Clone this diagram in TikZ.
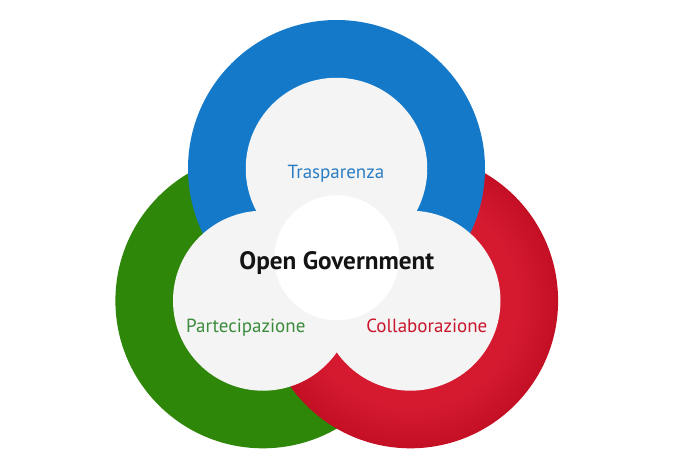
\documentclass[tikz,border=0pt]{standalone}
\usepackage{fontspec}
\setmainfont{PT Sans}
\definecolor{ringblue}{HTML}{1479C9}
\definecolor{ringgreen}{HTML}{2E8709}
\definecolor{redL}{HTML}{D51A30}
\definecolor{redD}{HTML}{C30F24}
\definecolor{innergray}{HTML}{F4F4F4}
\definecolor{txtblue}{HTML}{2A7DC4}
\definecolor{txtgreen}{HTML}{3A8C3C}
\definecolor{txtred}{HTML}{C8162C}
\pgfdeclareradialshading{redring}{\pgfpoint{0bp}{0bp}}{color(0bp)=(redL); color(18bp)=(redL); color(25bp)=(redD); color(50bp)=(redD)}
\tikzset{
  disc/.style={circle, inner sep=0pt, outer sep=0pt, draw=none, minimum size=#1},
  lbl/.style={anchor=base, inner sep=0pt, font=\fontsize{19}{21}\selectfont}
}
\begin{document}
\begin{tikzpicture}[x=1pt,y=-1pt]
\useasboundingbox (0,0) rectangle (678,469);
\fill[white] (0,0) rectangle (678,469);
% outer rings (full discs, covered by inner discs)
\node[disc=295.2pt, fill=ringgreen] (greenring) at (263,300.7) {};
\node[disc=295.2pt, shading=redring] (redring) at (410.5,300.7) {};
\node[disc=297pt, fill=ringblue] (bluering) at (336.5,168.5) {};
% inner discs
\node[disc=181.5pt, fill=innergray] (blueinner) at (336.5,168.5) {};
\node[disc=180pt, fill=innergray] (greeninner) at (263,300.7) {};
\node[disc=180pt, fill=innergray] (redinner) at (410.5,300.7) {};
% centre
\node[disc=125pt, fill=white] (centre) at (336.8,257.8) {};
% labels
\node[lbl, text=txtblue] (trasp) at (336,178.5) {Trasparenza};
\node[lbl, text=txtgreen] (partec) at (245.8,332.7) {Partecipazione};
\node[lbl, text=txtred] (collab) at (426.8,332.7) {Collaborazione};
\node[anchor=base, inner sep=0pt, font=\fontsize{25.2}{27}\selectfont\bfseries, text=black!92] (title) at (336.8,269.5) {Open Government};
\end{tikzpicture}
\end{document}
